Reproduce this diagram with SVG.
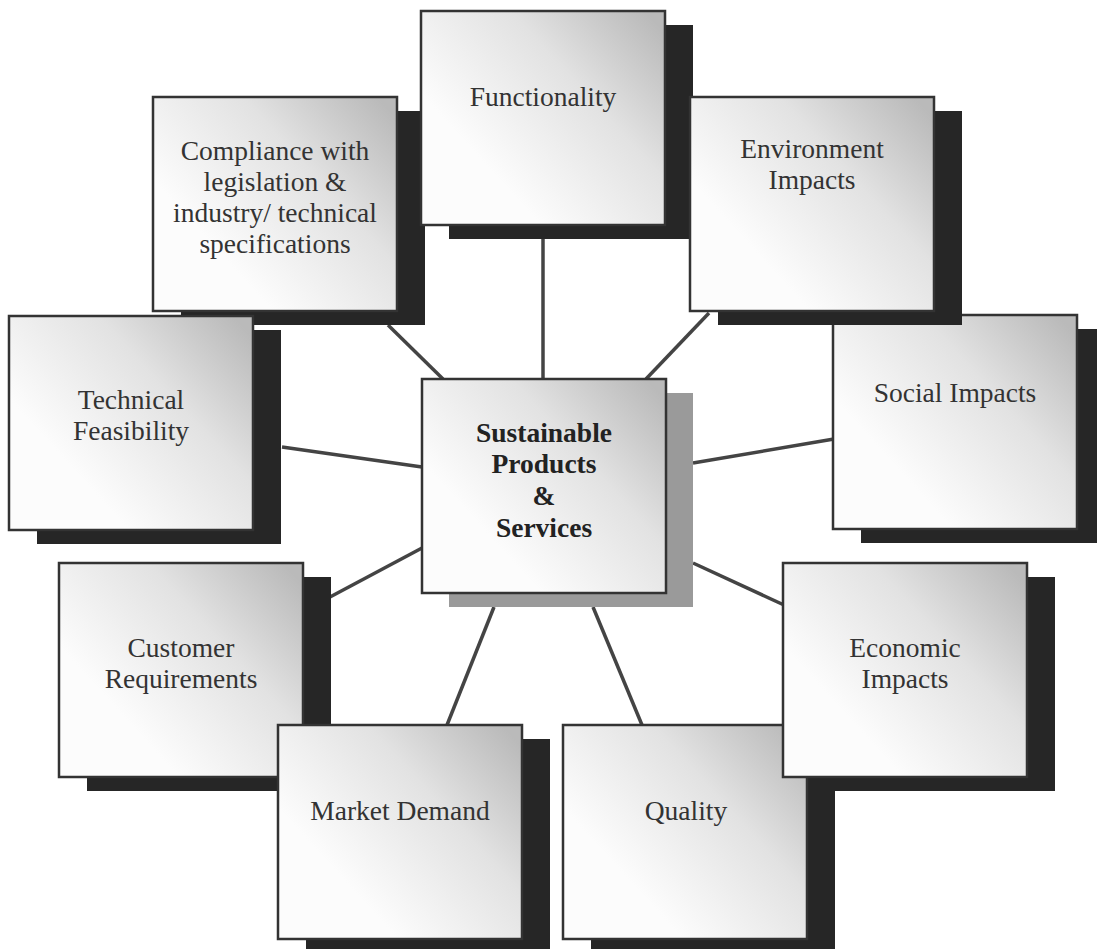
<svg xmlns="http://www.w3.org/2000/svg" width="1097" height="949" viewBox="0 0 1097 949">
<style>
.shadow{fill:#262626}
.cshadow{fill:#9a9a9a}
.box{fill:url(#boxgrad);stroke:#333;stroke-width:2.5}
.lbl{font-family:"Liberation Serif","Times New Roman",serif;font-size:27.5px;fill:#333;text-anchor:middle}
.bold{font-weight:bold;fill:#222}
.conn line{stroke:#444;stroke-width:3.5;stroke-linecap:butt}
</style>
<defs>
<linearGradient id="boxgrad" x1="1" y1="0.1" x2="0.25" y2="0.7">
<stop offset="0" stop-color="#bababa"/>
<stop offset="0.45" stop-color="#e2e2e2"/>
<stop offset="1" stop-color="#fcfcfc"/>
</linearGradient>
</defs>
<rect width="1097" height="949" fill="#fff"/>
<g id="connectors" class="conn">
<line x1="543" y1="238" x2="543" y2="379"/>
<line x1="388" y1="325" x2="443" y2="379"/>
<line x1="709" y1="313" x2="646" y2="379"/>
<line x1="282" y1="447" x2="422" y2="467"/>
<line x1="693" y1="463" x2="834" y2="439"/>
<line x1="422" y1="548" x2="330" y2="597"/>
<line x1="693" y1="563" x2="784" y2="605"/>
<line x1="494" y1="607" x2="447" y2="725"/>
<line x1="593" y1="607" x2="642" y2="725"/>
</g>
<g id="compliance">
<rect class="shadow" x="181" y="111" width="244" height="214"/>
<rect class="box" x="153" y="97" width="244" height="214"/>
<text class="lbl" x="275" y="160">Compliance with</text>
<text class="lbl" x="275" y="191">legislation &amp;</text>
<text class="lbl" x="275" y="222">industry/ technical</text>
<text class="lbl" x="275" y="253">specifications</text>
</g>
<g id="technical">
<rect class="shadow" x="37" y="330" width="244" height="214"/>
<rect class="box" x="9" y="316" width="244" height="214"/>
<text class="lbl" x="131" y="409">Technical</text>
<text class="lbl" x="131" y="440">Feasibility</text>
</g>
<g id="functionality">
<rect class="shadow" x="449" y="25" width="244" height="214"/>
<rect class="box" x="421" y="11" width="244" height="214"/>
<text class="lbl" x="543" y="106">Functionality</text>
</g>
<g id="social">
<rect class="shadow" x="861" y="329" width="244" height="214"/>
<rect class="box" x="833" y="315" width="244" height="214"/>
<text class="lbl" x="955" y="402">Social Impacts</text>
</g>
<g id="environment">
<rect class="shadow" x="718" y="111" width="244" height="214"/>
<rect class="box" x="690" y="97" width="244" height="214"/>
<text class="lbl" x="812" y="158">Environment</text>
<text class="lbl" x="812" y="189">Impacts</text>
</g>
<g id="customer">
<rect class="shadow" x="87" y="577" width="244" height="214"/>
<rect class="box" x="59" y="563" width="244" height="214"/>
<text class="lbl" x="181" y="657">Customer</text>
<text class="lbl" x="181" y="688">Requirements</text>
</g>
<g id="market">
<rect class="shadow" x="306" y="739" width="244" height="214"/>
<rect class="box" x="278" y="725" width="244" height="214"/>
<text class="lbl" x="400" y="820">Market Demand</text>
</g>
<g id="quality">
<rect class="shadow" x="591" y="739" width="244" height="214"/>
<rect class="box" x="563" y="725" width="244" height="214"/>
<text class="lbl" x="686" y="820">Quality</text>
</g>
<g id="economic">
<rect class="shadow" x="811" y="577" width="244" height="214"/>
<rect class="box" x="783" y="563" width="244" height="214"/>
<text class="lbl" x="905" y="657">Economic</text>
<text class="lbl" x="905" y="688">Impacts</text>
</g>
<g id="center">
<rect class="cshadow" x="449" y="393" width="244" height="214"/>
<rect class="box" x="422" y="379" width="244" height="214"/>
<text class="lbl bold" x="544" y="442">Sustainable</text>
<text class="lbl bold" x="544" y="473">Products</text>
<text class="lbl bold" x="544" y="505">&amp;</text>
<text class="lbl bold" x="544" y="537">Services</text>
</g>
</svg>
